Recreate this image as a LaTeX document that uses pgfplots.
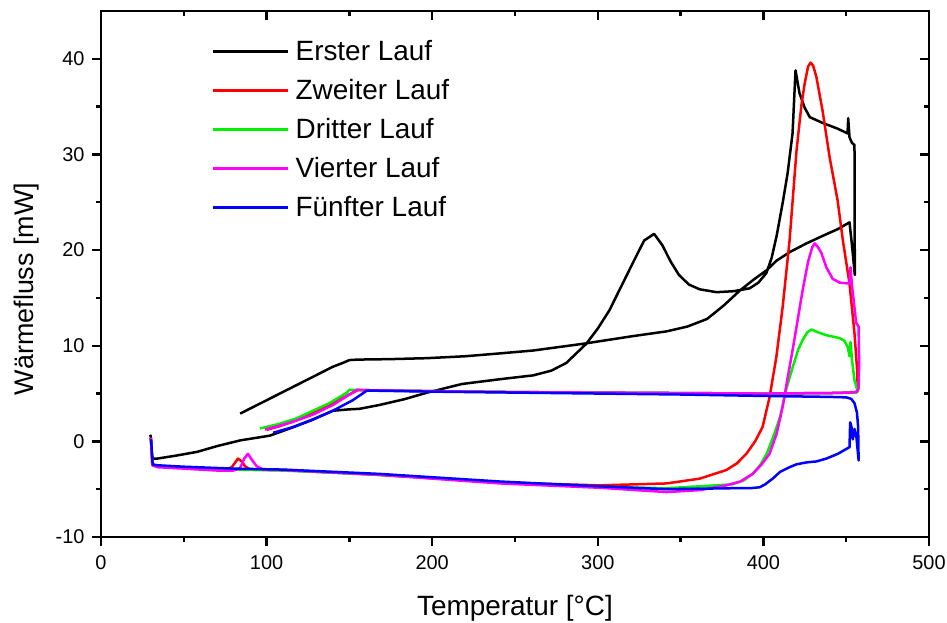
\documentclass[border=0pt]{standalone}
\usepackage{pgfplots}
\pgfplotsset{compat=1.18}
\usepackage{fontspec}
\setmainfont{Liberation Sans}

\definecolor{runA}{RGB}{0,0,0}
\definecolor{runB}{RGB}{255,0,0}
\definecolor{runC}{RGB}{0,240,0}
\definecolor{runD}{RGB}{255,0,255}
\definecolor{runE}{RGB}{0,0,255}

\pgfplotsset{
  dscframe/.style={
    scale only axis, width=828bp, height=526bp,
    xmin=0, xmax=500, ymin=-10, ymax=45,
    xtick={0,100,...,500}, ytick={-10,0,...,40},
    minor x tick num=1, minor y tick num=1,
    major tick length=9bp, minor tick length=5bp,
    axis line style={line width=2.7bp},
    major tick style={line width=2.4bp, black},
    minor tick style={line width=2.4bp, black},
    /pgf/number format/assume math mode=true,
    tick label style={font=\fontsize{20}{23}\selectfont},
  }
}

\begin{document}
\begin{tikzpicture}
% ticks on the upper and right edges point into the frame
\begin{axis}[dscframe, name=top, tick align=inside,
  xtick pos=right, ytick pos=right,
  xticklabels={}, yticklabels={}]
\end{axis}
\begin{axis}[dscframe, name=main, tick align=outside,
  xtick pos=left, ytick pos=left,
  yticklabel style={xshift=-4bp},
  xticklabel style={yshift=-6bp},
  xlabel={Temperatur [°C]},
  ylabel={Wärmefluss [mW]},
  xlabel style={font=\fontsize{28}{32}\selectfont, at={(axis description cs:0.5,-0.1483)}, anchor=base},
  ylabel style={font=\fontsize{27}{30}\selectfont, at={(axis description cs:-0.0821,0.4715)}, anchor=base},
  every axis plot/.append style={line width=2.5bp, line join=round},
  legend cell align=left,
  legend image code/.code={\draw[#1] (0bp,0bp) -- (75bp,0bp);},
  legend style={at={(axis cs:67,42.1)}, anchor=north west, draw=none, fill=none,
    inner sep=0pt, row sep=14bp,
    font=\fontsize{28}{31}\selectfont,
    nodes={inner sep=0pt, text height=22bp, text depth=3bp},
    /tikz/every odd column/.append style={column sep=6bp}},
]

% first heating and cooling run
\addplot[runA] coordinates {
(29.5,0.5) (30,0.6) (30.8,-1.5) (31.5,-1.8) (34,-1.8) (45,-1.5) (58,-1.1)
(70,-0.5) (84,0.1) (102,0.6) (114,1.35) (127,2.2) (140,3.2) (150,3.35)
(156,3.4) (168,3.8) (183,4.4) (197,5.1) (218,6.0) (241,6.5) (261,6.9)
(272,7.4) (281,8.2) (293,10.2) (300,11.8) (307,13.7) (317,17.2) (323,19.3)
(328,21.0) (334,21.7) (339,20.5) (344,18.8) (349,17.4) (355,16.4)
(361.5,15.9) (371.7,15.6) (382,15.7) (391.7,16.0) (397,16.6) (401.8,17.6)
(405,19.2) (408,21.5) (411.6,24.9) (414.6,28) (417.6,32.2) (419.4,38.8)
(421.8,36.4) (424.9,34.9) (428,33.9) (435.7,33.3) (444.8,32.7) (450.8,32.2)
(451.2,33.8) (452,31.8) (453.5,31.2) (455,31.0) (455.2,17.4) (453.5,20.5)
(452,22.9) (445,22.2) (436,21.5) (426,20.7) (416,19.8) (408,18.9)
(402,17.9) (394,16.9) (386,15.8) (376,14.2) (366,12.8) (354,12.0)
(341.5,11.5) (321,11.0) (291,10.2) (261,9.5) (241,9.2) (220,8.9) (197,8.7)
(175,8.6) (155,8.55) (150,8.5) (146,8.2) (140,7.8) (132,7.1) (84,2.9)
};
\addlegendentry{Erster Lauf}

% second run
\addplot[runB] coordinates {
(29.5,0.2) (30.2,0.3) (31,-2.4) (33,-2.6) (50,-2.75) (65,-2.85) (76,-2.9)
(79,-2.7) (82.7,-1.8) (85,-2.1) (87,-2.6) (90,-2.95) (110,-3.0) (168,-3.5)
(241,-4.3) (301,-4.6) (341.5,-4.4) (361.5,-3.9) (377.6,-3.0) (384,-2.3)
(389.7,-1.3) (395,0.0) (399.5,1.5) (403.7,4.6) (407.8,8.8) (411.6,14)
(415.8,21) (420,30.4) (423,35.2) (424.9,37.4) (427,39.2) (428.5,39.6)
(430,39.3) (432,38.1) (435.7,34.6) (440,29.7) (444.8,25.2) (448,21)
(452,16.5) (455,11.3) (456.5,7.7) (457,5.5) (456,5.1) (452,5.1)
(440,5.05) (400,5.0) (350,5.05) (300,5.1) (250,5.15) (200,5.25)
(160,5.35) (155,5.35) (150,4.9) (140,4.0) (130,3.1) (118,2.2) (108,1.6)
(100,1.2)
};
\addlegendentry{Zweiter Lauf}

% third run
\addplot[runC] coordinates {
(29.5,0.2) (30.2,0.2) (31,-2.4) (33,-2.6) (50,-2.75) (80,-2.95)
(110,-3.05) (168,-3.5) (241,-4.3) (301,-4.75) (341.5,-4.9) (381,-4.5)
(388,-4.1) (393.5,-3.4) (398,-2.5) (402,-1.3) (406,0.5) (410,2.5)
(414,5.6) (417.6,7.7) (421,9.6) (423.7,10.6) (426.5,11.4) (429,11.7)
(433,11.4) (438,11.1) (446,10.8) (449,10.5) (451,9.8) (452,8.9)
(452.6,10.4) (453.5,8.5) (455,6.4) (457,5.2) (456,5.1) (452,5.1)
(440,5.05) (400,5.0) (350,5.05) (300,5.1) (250,5.15) (200,5.25)
(160,5.35) (150,5.4) (148.5,5.1) (138,4.0) (128,3.2) (118,2.4) (107,1.8)
(96,1.35)
};
\addlegendentry{Dritter Lauf}

% fourth run
\addplot[runD] coordinates {
(29.5,0.2) (30.2,0.2) (31,-2.5) (34,-2.7) (50,-2.85) (70,-3.05)
(80,-3.05) (84,-2.8) (86.5,-1.8) (88.7,-1.3) (91,-1.9) (94,-2.6)
(98,-2.95) (110,-3.0) (168,-3.5) (241,-4.4) (301,-4.85) (341.5,-5.3)
(361.5,-5.1) (377.6,-4.6) (386,-4.2) (393.5,-3.4) (399,-2.4)
(403.7,-1.3) (408,0.8) (411.6,3.6) (414.5,6.5) (417.6,9.5) (423.7,15.8)
(427,18.8) (429.5,20.3) (431,20.7) (433,20.3) (435,19.7) (438,18.2)
(441.8,17.0) (446,16.6) (452,16.5) (452.6,18.2) (453.5,16.3) (455,14)
(456,12.4) (457.5,12.0) (457.8,8) (457.5,5.5) (456,5.15) (452,5.1)
(440,5.05) (400,5.0) (350,5.05) (300,5.1) (250,5.15) (200,5.25)
(160,5.35) (154.5,5.4) (150,4.9) (140,3.8) (128,2.8) (115,2.0)
(105,1.5) (99,1.25)
};
\addlegendentry{Vierter Lauf}

% fifth run
\addplot[runE] coordinates {
(29.5,0.1) (30.3,0.1) (31.2,-2.4) (34,-2.5) (50,-2.65) (80,-2.85)
(110,-2.95) (168,-3.4) (241,-4.2) (301,-4.7) (341.5,-5.0) (381,-4.9)
(392,-4.9) (397.7,-4.8) (401,-4.5) (405.6,-3.9) (410,-3.2) (415.8,-2.7)
(420,-2.4) (426,-2.2) (432,-2.1) (438,-1.8) (445,-1.3) (452,-0.6)
(452.4,2.0) (453.2,1.5) (454,0.2) (455,1.3) (456.2,0.4) (457.5,-2.0)
(457.2,1.5) (456.5,3.0) (455,4.0) (453,4.45) (450,4.6) (440,4.65)
(400,4.75) (350,4.9) (300,5.0) (250,5.1) (200,5.2) (165,5.3)
(160.5,5.3) (152,4.3) (140,3.2) (128,2.3) (116,1.5) (104,0.9)
};
\addlegendentry{Fünfter Lauf}

\end{axis}
\pgfresetboundingbox
\path (main.south west) ++(-101bp,-86bp) rectangle ++(947bp,623bp);
\end{tikzpicture}
\end{document}
